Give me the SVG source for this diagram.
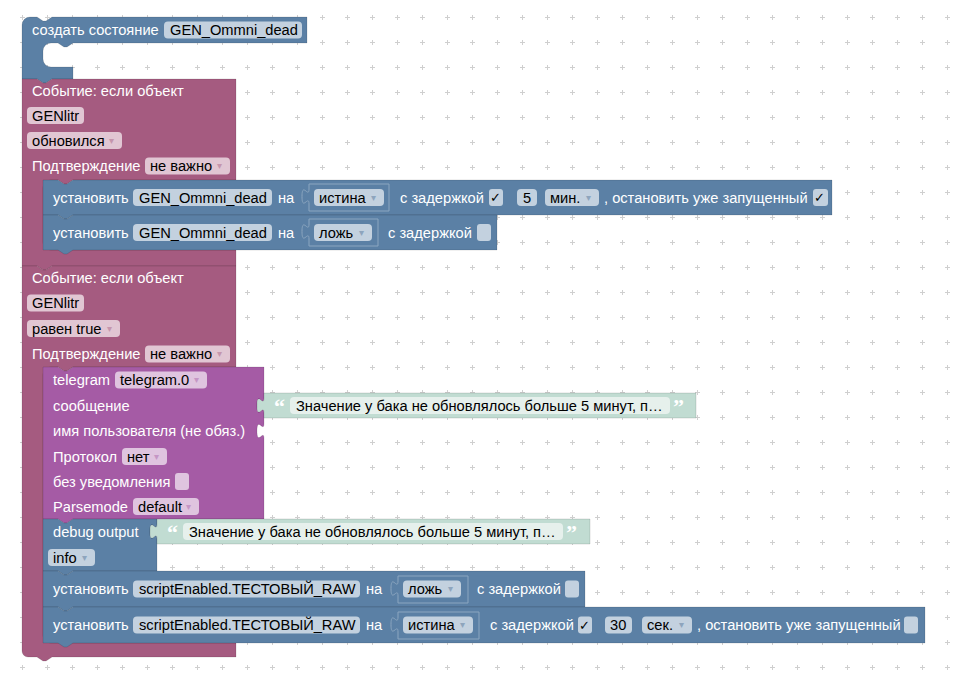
<svg xmlns="http://www.w3.org/2000/svg" width="962" height="679" viewBox="0 0 962 679">
<style>
.t{font-family:"Liberation Sans",Arial,sans-serif;font-size:14.67px;fill:#fff}
.d{fill:#000}
.ar{font-family:"DejaVu Sans",sans-serif;font-size:10px}
.ab{fill:#8ea5bd}.am{fill:#c596ad}.ap{fill:#c596c5}
.blue{fill:#5b80a5}.mar{fill:#a55b80}.pur{fill:#a55ba5}.grn{fill:#c1dcd2}
.pb{fill:#c3d1df}.pm{fill:#e1c6d3}.pp{fill:#dfc4df}.pg{fill:#e6f0ec}
.edge{stroke:#000;stroke-opacity:.12;stroke-width:1}
.inner{fill:#5b80a5;stroke:#8ca6c0;stroke-width:1}
.q{font-family:"Liberation Serif",serif;font-weight:bold;font-size:22px;fill:#fff}
.ck{font-family:"DejaVu Sans",sans-serif;font-size:13px;fill:#000}
</style>
<defs>
<pattern id="grid" x="10" y="5" width="25" height="25" patternUnits="userSpaceOnUse">
<path d="M10 12.5h5M12.5 10v5" stroke="#cfcfcf" stroke-width="1"/>
</pattern>
</defs>
<rect width="962" height="679" fill="#fff"/>
<rect width="962" height="679" fill="url(#grid)"/>
<g id="connectors"/>

<g id="block-create">
<path class="blue edge" d="M22,25 a8,8 0 0 1 8,-8 H37 l6,4 3,0 6,-4 H307 V43 H73 l-6,4 -3,0 -6,-4 H51 a8,8 0 0 0 -8,8 V59 a8,8 0 0 0 8,8 H73 V79 H52 l-6,4 -3,0 -6,-4 H22 Z"/>
<text class="t" x="32" y="35">создать состояние</text>
<rect class="pb" x="164" y="21.5" width="138" height="17" rx="4"/>
<text class="t d" x="170" y="35">GEN_Ommni_dead</text>
</g>

<g id="block-event1">
<path class="mar edge" d="M22,79 H37 l6,4 3,0 6,-4 H236 V180 H73 l-6,4 -3,0 -6,-4 H51 a8,8 0 0 0 -8,8 V242 a8,8 0 0 0 8,8 H236 V266 H52 l-6,4 -3,0 -6,-4 H22 Z"/>
<text class="t" x="32" y="96">Событие: если объект</text>
<rect class="pm" x="27" y="107" width="57" height="17" rx="4"/>
<text class="t d" x="32" y="120.5">GENlitr</text>
<rect class="pm" x="27" y="132" width="95" height="17" rx="4"/>
<text class="t d" x="32" y="145.5">обновился</text>
<text class="ar am" x="109" y="143.5">▾</text>
<text class="t" x="32" y="171">Подтверждение</text>
<rect class="pm" x="145" y="157.5" width="85" height="17" rx="4"/>
<text class="t d" x="150" y="171">не важно</text>
<text class="ar am" x="217" y="169">▾</text>
</g>

<g id="block-set1">
<path class="blue edge" d="M43,180 H58 l6,4 3,0 6,-4 H832 V215 H73 l-6,4 -3,0 -6,-4 H43 Z"/>
<text class="t" x="53" y="202.5">установить</text>
<rect class="pb" x="133" y="189" width="139" height="17" rx="4"/>
<text class="t d" x="139" y="202.5">GEN_Ommni_dead</text>
<text class="t" x="278" y="202.5">на</text>
<path class="inner" d="M309,184 H389 V211 H309 V204 c0,-10 -7,8 -7,-7.5 s7,2.5 7,-7.5 Z"/>
<rect class="pb" x="314" y="189" width="70" height="17" rx="4"/>
<text class="t d" x="319" y="202.5">истина</text>
<text class="ar ab" x="371" y="200.5">▾</text>
<text class="t" x="400" y="202.5">с задержкой</text>
<rect class="pb" x="489" y="189" width="14" height="17" rx="3"/>
<text class="ck" x="490" y="202">✓</text>
<rect class="pb" x="517" y="189" width="20" height="17" rx="4"/>
<text class="t d" x="523" y="202.5">5</text>
<rect class="pb" x="545" y="189" width="54" height="17" rx="4"/>
<text class="t d" x="550" y="202.5">мин.</text>
<text class="ar ab" x="586" y="200.5">▾</text>
<text class="t" x="604" y="202.5">, остановить уже запущенный</text>
<rect class="pb" x="813" y="189" width="15" height="17" rx="3"/>
<text class="ck" x="814" y="202">✓</text>
</g>

<g id="block-set2">
<path class="blue edge" d="M43,215 H58 l6,4 3,0 6,-4 H497 V250 H73 l-6,4 -3,0 -6,-4 H43 Z"/>
<text class="t" x="53" y="237.5">установить</text>
<rect class="pb" x="133" y="224" width="139" height="17" rx="4"/>
<text class="t d" x="139" y="237.5">GEN_Ommni_dead</text>
<text class="t" x="278" y="237.5">на</text>
<path class="inner" d="M309,219 H378 V246 H309 V239 c0,-10 -7,8 -7,-7.5 s7,2.5 7,-7.5 Z"/>
<rect class="pb" x="314" y="224" width="58" height="17" rx="4"/>
<text class="t d" x="319" y="237.5">ложь</text>
<text class="ar ab" x="359" y="235.5">▾</text>
<text class="t" x="388" y="237.5">с задержкой</text>
<rect class="pb" x="477" y="224" width="14" height="17" rx="3"/>
</g>

<g id="block-event2">
<path class="mar edge" d="M22,266 H37 l6,4 3,0 6,-4 H236 V367 H73 l-6,4 -3,0 -6,-4 H51 a8,8 0 0 0 -8,8 V635 a8,8 0 0 0 8,8 H236 V657 H52 l-6,4 -3,0 -6,-4 H28 a6,6 0 0 1 -6,-6 Z"/>
<text class="t" x="32" y="283">Событие: если объект</text>
<rect class="pm" x="27" y="294.5" width="57" height="17" rx="4"/>
<text class="t d" x="32" y="308">GENlitr</text>
<rect class="pm" x="27" y="320" width="93" height="17" rx="4"/>
<text class="t d" x="32" y="333.5">равен true</text>
<text class="ar am" x="107" y="331.5">▾</text>
<text class="t" x="32" y="359">Подтверждение</text>
<rect class="pm" x="145" y="345.5" width="85" height="17" rx="4"/>
<text class="t d" x="150" y="359">не важно</text>
<text class="ar am" x="217" y="357">▾</text>
</g>

<g id="block-telegram">
<path class="pur edge" d="M43,367 H58 l6,4 3,0 6,-4 H264 V398 c0,10 -7,-8 -7,7.5 s7,-2.5 7,7.5 V423.5 c0,10 -7,-8 -7,7.5 s7,-2.5 7,7.5 V519 H73 l-6,4 -3,0 -6,-4 H43 Z"/>
<text class="t" x="53" y="385">telegram</text>
<rect class="pp" x="115" y="371.5" width="92" height="17" rx="4"/>
<text class="t d" x="120" y="385">telegram.0</text>
<text class="ar ap" x="194" y="383">▾</text>
<text class="t" x="53" y="410.5">сообщение</text>
<text class="t" x="53" y="436">имя пользователя (не обяз.)</text>
<text class="t" x="53" y="461.5">Протокол</text>
<rect class="pp" x="122" y="448" width="45" height="17" rx="4"/>
<text class="t d" x="127" y="461.5">нет</text>
<text class="ar ap" x="154" y="459.5">▾</text>
<text class="t" x="53" y="486.5">без уведомления</text>
<rect class="pp" x="175" y="473" width="14" height="17" rx="3"/>
<text class="t" x="53" y="511.5">Parsemode</text>
<rect class="pp" x="133" y="498" width="66" height="17" rx="4"/>
<text class="t d" x="138" y="511.5">default</text>
<text class="ar ap" x="186" y="509.5">▾</text>
</g>

<g id="block-text1">
<path class="grn edge" d="M264,393 H696 V418 H264 V413 c0,-10 -7,8 -7,-7.5 s7,2.5 7,-7.5 Z"/>
<text class="q" x="274" y="414">“</text>
<rect class="pg" x="290" y="397" width="380" height="17" rx="4"/>
<text class="t d" x="296" y="410.5">Значение у бака не обновлялось больше 5 минут, п…</text>
<text class="q" x="673" y="414">”</text>
</g>

<g id="block-debug">
<path class="blue edge" d="M43,519 H58 l6,4 3,0 6,-4 H157 V524 c0,10 -7,-8 -7,7.5 s7,-2.5 7,7.5 V571 H73 l-6,4 -3,0 -6,-4 H43 Z"/>
<text class="t" x="53" y="536.5">debug output</text>
<rect class="pb" x="48" y="549" width="47" height="17" rx="4"/>
<text class="t d" x="53" y="562.5">info</text>
<text class="ar ab" x="82" y="560.5">▾</text>
</g>

<g id="block-text2">
<path class="grn edge" d="M157,519 H590 V544 H157 V539 c0,-10 -7,8 -7,-7.5 s7,2.5 7,-7.5 Z"/>
<text class="q" x="167" y="540">“</text>
<rect class="pg" x="183" y="523" width="380" height="17" rx="4"/>
<text class="t d" x="189" y="536.5">Значение у бака не обновлялось больше 5 минут, п…</text>
<text class="q" x="566" y="540">”</text>
</g>

<g id="block-set3">
<path class="blue edge" d="M43,571 H58 l6,4 3,0 6,-4 H585 V607 H73 l-6,4 -3,0 -6,-4 H43 Z"/>
<text class="t" x="53" y="594">установить</text>
<rect class="pb" x="133" y="580.5" width="227" height="17" rx="4"/>
<text class="t d" x="139" y="594">scriptEnabled.ТЕСТОВЫЙ_RAW</text>
<text class="t" x="366" y="594">на</text>
<path class="inner" d="M398,576 H468 V603 H398 V596 c0,-10 -7,8 -7,-7.5 s7,2.5 7,-7.5 Z"/>
<rect class="pb" x="403" y="580.5" width="58" height="17" rx="4"/>
<text class="t d" x="408" y="594">ложь</text>
<text class="ar ab" x="448" y="592">▾</text>
<text class="t" x="477" y="594">с задержкой</text>
<rect class="pb" x="565" y="580.5" width="14" height="17" rx="3"/>
</g>

<g id="block-set4">
<path class="blue edge" d="M43,607 H58 l6,4 3,0 6,-4 H925 V643 H73 l-6,4 -3,0 -6,-4 H43 Z"/>
<text class="t" x="53" y="630">установить</text>
<rect class="pb" x="133" y="616.5" width="227" height="17" rx="4"/>
<text class="t d" x="139" y="630">scriptEnabled.ТЕСТОВЫЙ_RAW</text>
<text class="t" x="366" y="630">на</text>
<path class="inner" d="M398,612 H479 V639 H398 V632 c0,-10 -7,8 -7,-7.5 s7,2.5 7,-7.5 Z"/>
<rect class="pb" x="403" y="616.5" width="70" height="17" rx="4"/>
<text class="t d" x="408" y="630">истина</text>
<text class="ar ab" x="460" y="628">▾</text>
<text class="t" x="490" y="630">с задержкой</text>
<rect class="pb" x="578" y="616.5" width="14" height="17" rx="3"/>
<text class="ck" x="579" y="629.5">✓</text>
<rect class="pb" x="605" y="616.5" width="27" height="17" rx="4"/>
<text class="t d" x="610" y="630">30</text>
<rect class="pb" x="642" y="616.5" width="50" height="17" rx="4"/>
<text class="t d" x="647" y="630">сек.</text>
<text class="ar ab" x="679" y="628">▾</text>
<text class="t" x="697" y="630">, остановить уже запущенный</text>
<rect class="pb" x="904" y="616.5" width="14" height="17" rx="3"/>
</g>
</svg>
